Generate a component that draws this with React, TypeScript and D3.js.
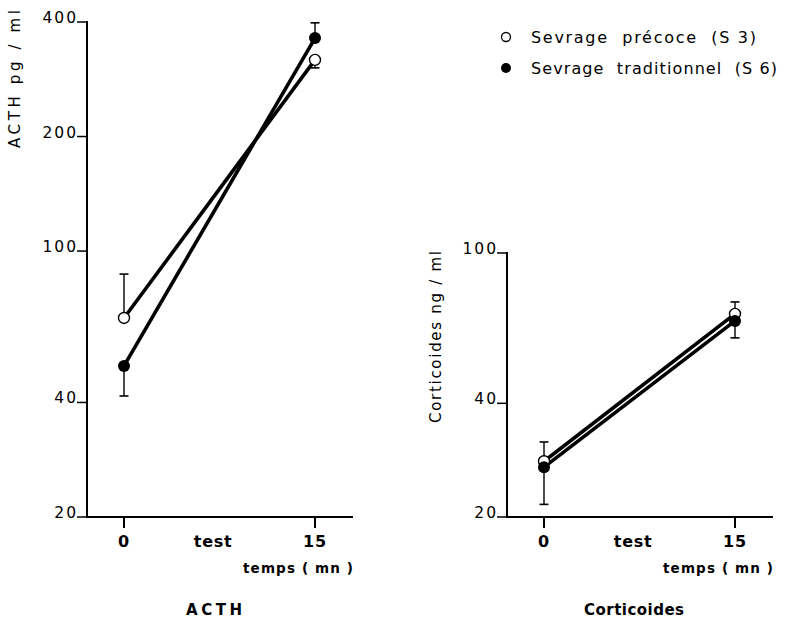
import React from "react";
import * as d3 from "d3";

// temps (mn)
const times = [0, 15];
const xTickLabels = ["0", "test", "15"];
const xTickValues = [0, 7, 15];

// ACTH pg/ml
const acthS3 = [66.7, 318];
const acthS6 = [49.9, 363];
const acthS3Up = [87, null];
const acthS3Down = [null, 303];
const acthS6Up = [null, 398];
const acthS6Down = [41.6, null];
const acthTicks = [20, 40, 100, 200, 400];

// Corticoides ng/ml
const cortS3 = [28.1, 69];
const cortS6 = [27.1, 66.1];
const cortS3Up = [31.6, 74.2];
const cortS3Down = [null, null];
const cortS6Up = [null, null];
const cortS6Down = [21.6, 59.6];
const cortTicks = [20, 40, 100];

const legendLabels = ["Sevrage  précoce  (S 3)", "Sevrage  traditionnel  (S 6)"];

const font = "'DejaVu Sans', sans-serif";

function Panel({ ox, x1, xEnd, yTop, yMax, ticks, s3, s6, s3Up, s3Down, s6Up, s6Down, yLabel, yLabelX, yLabelY, yLabelLen, title, titleLen }) {
  const x = d3.scaleLinear().domain([0, 15]).range([x1, x1 + 191]);
  const y = d3.scaleLog().domain([20, yMax]).range([517, yTop]);
  const line = d3.line<number>().x((d, i) => x(times[i])).y((d) => y(d));

  const bars = (vals, ends, dir) =>
    vals.map((v, i) => {
      const e = ends[i];
      if (e == null) return null;
      return (
        <g key={dir + i}>
          <line x1={x(times[i])} x2={x(times[i])} y1={y(v)} y2={y(e)} stroke="#000" strokeWidth={1.4} />
          <line x1={x(times[i]) - 4.5} x2={x(times[i]) + 4.5} y1={y(e)} y2={y(e)} stroke="#000" strokeWidth={1.6} />
        </g>
      );
    });

  return (
    <g fontFamily={font} fill="#000">
      <line x1={ox} x2={ox} y1={yTop - 1} y2={518} stroke="#000" strokeWidth={2} />
      <line x1={ox - 1} x2={xEnd} y1={517} y2={517} stroke="#000" strokeWidth={2} />
      {ticks.map((t) => (
        <g key={t}>
          <line x1={ox - 10} x2={ox} y1={y(t)} y2={y(t)} stroke="#000" strokeWidth={1.5} />
          <text x={ox - 9} y={y(t) + 1} textAnchor="end" fontSize={15.5} letterSpacing={2}>{t}</text>
        </g>
      ))}
      {xTickValues.map((t, i) => (
        <g key={i}>
          {t !== 7 && <line x1={x(t)} x2={x(t)} y1={517} y2={528} stroke="#000" strokeWidth={2} />}
          <text x={x(t)} y={547} textAnchor="middle" fontSize={16} fontWeight="bold" letterSpacing={0.8}>{xTickLabels[i]}</text>
        </g>
      ))}
      <text x={xEnd} y={573} textAnchor="end" fontSize={13.5} fontWeight="bold" textLength={110} lengthAdjust="spacing" style={{ whiteSpace: "pre" }}>temps ( mn )</text>
      <text
        transform={`translate(${yLabelX},${yLabelY}) rotate(-90)`}
        textAnchor="middle"
        fontSize={15}
        textLength={yLabelLen}
        lengthAdjust="spacing"
      >{yLabel}</text>
      <text x={(ox + xEnd) / 2 - 6} y={615} textAnchor="middle" fontSize={15} fontWeight="bold" textLength={titleLen} lengthAdjust="spacing">{title}</text>
      {bars(s3, s3Up, "u3")}
      {bars(s3, s3Down, "d3")}
      {bars(s6, s6Up, "u6")}
      {bars(s6, s6Down, "d6")}
      <path d={line(s3) || ""} fill="none" stroke="#000" strokeWidth={3.6} />
      <path d={line(s6) || ""} fill="none" stroke="#000" strokeWidth={3.6} />
      {s3.map((v, i) => (
        <circle key={"c3" + i} cx={x(times[i])} cy={y(v)} r={5.5} fill="#fff" stroke="#000" strokeWidth={1.4} />
      ))}
      {s6.map((v, i) => (
        <circle key={"c6" + i} cx={x(times[i])} cy={y(v)} r={6} fill="#000" />
      ))}
    </g>
  );
}

export default function App() {
  return (
    <svg width={786} height={620} style={{ position: "absolute", left: 0, top: 0, background: "#fff" }}>
      <rect width={786} height={620} fill="#fff" />
      <Panel
        ox={87} x1={124} xEnd={353} yTop={22} yMax={400} ticks={acthTicks}
        s3={acthS3} s6={acthS6} s3Up={acthS3Up} s3Down={acthS3Down} s6Up={acthS6Up} s6Down={acthS6Down}
        yLabel="ACTH  pg / ml" yLabelX={20} yLabelY={79} yLabelLen={138}
        title="ACTH" titleLen={56}
      />
      <Panel
        ox={507} x1={544} xEnd={773} yTop={253} yMax={100} ticks={cortTicks}
        s3={cortS3} s6={cortS6} s3Up={cortS3Up} s3Down={cortS3Down} s6Up={cortS6Up} s6Down={cortS6Down}
        yLabel="Corticoides  ng / ml" yLabelX={441} yLabelY={337} yLabelLen={172}
        title="Corticoides" titleLen={100}
      />
      <g fontFamily={font}>
        <circle cx={506} cy={37} r={4.5} fill="#fff" stroke="#000" strokeWidth={1.3} />
        <circle cx={506} cy={68} r={5} fill="#000" />
        <text x={531} y={43} fontSize={16} textLength={225} lengthAdjust="spacing" style={{ whiteSpace: "pre" }}>{legendLabels[0]}</text>
        <text x={531} y={74} fontSize={16} textLength={246} lengthAdjust="spacing" style={{ whiteSpace: "pre" }}>{legendLabels[1]}</text>
      </g>
    </svg>
  );
}
